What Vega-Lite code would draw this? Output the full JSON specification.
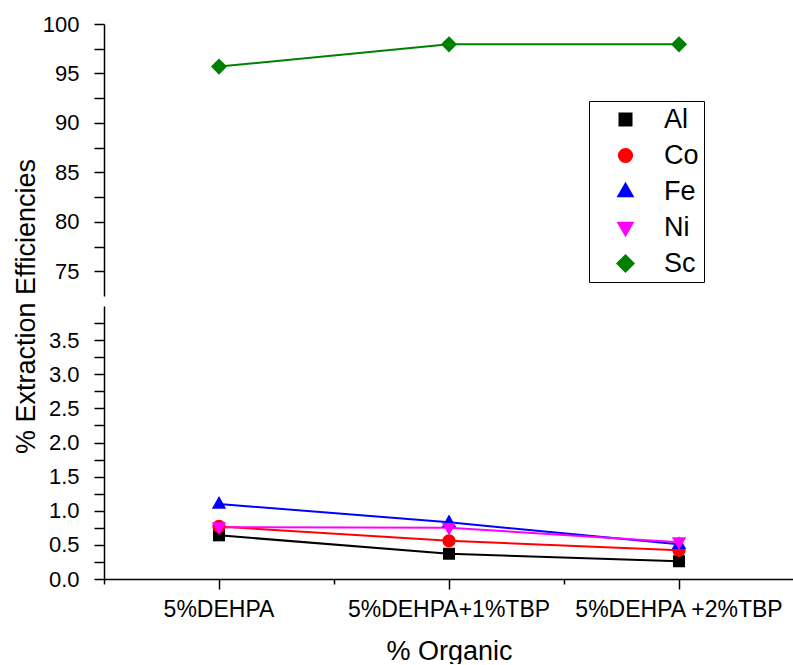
{
  "$schema": "https://vega.github.io/schema/vega-lite/v6.json",
  "padding": {"left": 11, "top": 13, "right": 0, "bottom": 0},
  "background": "white",
  "bounds": "flush",
  "config": {
    "view": {"stroke": null},
    "font": "Liberation Sans",
    "axis": {
      "grid": false,
      "domainColor": "black",
      "tickColor": "black",
      "labelColor": "black",
      "titleColor": "black",
      "domainWidth": 1.5,
      "tickWidth": 1.5,
      "labelFont": "Liberation Sans",
      "titleFont": "Liberation Sans",
      "titleFontWeight": "normal",
      "labelFontSize": 22
    }
  },
  "data": {
    "values": [
      {"organic": "5%DEHPA", "metal": "Al", "value": 0.64},
      {"organic": "5%DEHPA+1%TBP", "metal": "Al", "value": 0.37},
      {"organic": "5%DEHPA +2%TBP", "metal": "Al", "value": 0.26},
      {"organic": "5%DEHPA", "metal": "Co", "value": 0.77},
      {"organic": "5%DEHPA+1%TBP", "metal": "Co", "value": 0.56},
      {"organic": "5%DEHPA +2%TBP", "metal": "Co", "value": 0.42},
      {"organic": "5%DEHPA", "metal": "Fe", "value": 1.10},
      {"organic": "5%DEHPA+1%TBP", "metal": "Fe", "value": 0.83},
      {"organic": "5%DEHPA +2%TBP", "metal": "Fe", "value": 0.51},
      {"organic": "5%DEHPA", "metal": "Ni", "value": 0.76},
      {"organic": "5%DEHPA+1%TBP", "metal": "Ni", "value": 0.75},
      {"organic": "5%DEHPA +2%TBP", "metal": "Ni", "value": 0.54},
      {"organic": "5%DEHPA", "metal": "Sc", "value": 95.7},
      {"organic": "5%DEHPA+1%TBP", "metal": "Sc", "value": 97.95},
      {"organic": "5%DEHPA +2%TBP", "metal": "Sc", "value": 97.95}
    ]
  },
  "spacing": 10,
  "vconcat": [
    {
      "width": 690,
      "height": 272,
      "transform": [{"filter": "datum.metal === 'Sc'"}],
      "encoding": {
        "x": {
          "field": "organic", "type": "nominal",
          "sort": ["5%DEHPA", "5%DEHPA+1%TBP", "5%DEHPA +2%TBP"],
          "scale": {"type": "band", "paddingInner": 0, "paddingOuter": 0},
          "axis": null
        },
        "y": {
          "field": "value", "type": "quantitative",
          "scale": {"domain": [72.5, 100], "nice": false, "zero": false},
          "axis": {
            "title": null,
            "values": [75, 77.5, 80, 82.5, 85, 87.5, 90, 92.5, 95, 97.5, 100],
            "labelExpr": "datum.value % 5 === 0 ? datum.label : ''",
            "tickSize": 10,
            "labelPadding": 15,
            "encode": {"ticks": {"update": {"x2": {"signal": "datum.value % 5 === 0 ? -10 : -5"}}}}
          }
        },
        "color": {
          "field": "metal", "type": "nominal",
          "scale": {"domain": ["Al", "Co", "Fe", "Ni", "Sc"], "range": ["#000000", "#ff0000", "#0000ff", "#ff00ff", "#008000"]},
          "legend": {
            "orient": "none",
            "legendX": 485,
            "legendY": 77,
            "title": null,
            "strokeColor": "black",
            "fillColor": "white",
            "padding": 5,
            "symbolSize": 144,
            "symbolStrokeWidth": 2,
            "symbolOffset": 18,
            "labelOffset": 25,
            "labelFontSize": 27,
            "labelColor": "black",
            "labelFont": "Liberation Sans",
            "rowPadding": 8,
            "encode": {
              "symbols": {
                "update": {
                  "shape": {"signal": "datum.value === 'Al' ? 'M-5.33,0H5.33M-1,-1H1V1H-1Z' : datum.value === 'Co' ? 'M-5.33,0H5.33M-1.1,0A1.1,1.1 0 1,0 1.1,0A1.1,1.1 0 1,0 -1.1,0Z' : datum.value === 'Fe' ? 'M-5.33,0H5.33M0,-1.3L1.2,0.8H-1.2Z' : datum.value === 'Ni' ? 'M-5.33,0H5.33M0,1.3L1.2,-0.8H-1.2Z' : 'M-5.33,0H5.33M-1.35,0L0,-1.35L1.35,0L0,1.35Z'"},
                  "fill": {"signal": "scale('color', datum.value)"},
                  "stroke": {"signal": "scale('color', datum.value)"},
                  "strokeWidth": {"value": 2},
                  "opacity": {"value": 1}
                }
              }
            }
          }
        }
      },
      "layer": [
        {"mark": {"type": "line", "strokeWidth": 2}},
        {
          "mark": {"type": "point", "filled": true, "size": 144, "opacity": 1},
          "encoding": {
            "shape": {
              "field": "metal", "type": "nominal",
              "scale": {"domain": ["Al", "Co", "Fe", "Ni", "Sc"], "range": ["M-1,-1H1V1H-1Z", "M-1.1,0A1.1,1.1 0 1,0 1.1,0A1.1,1.1 0 1,0 -1.1,0Z", "M0,-1.3L1.2,0.8H-1.2Z", "M0,1.3L1.2,-0.8H-1.2Z", "M-1.35,0L0,-1.35L1.35,0L0,1.35Z"]},
              "legend": null
            }
          }
        }
      ]
    },
    {
      "width": 690,
      "height": 273,
      "transform": [{"filter": "datum.metal !== 'Sc'"}],
      "encoding": {
        "y": {
          "field": "value", "type": "quantitative",
          "scale": {"domain": [0, 4], "nice": false, "zero": true},
          "axis": {
            "title": "% Extraction Efficiencies",
            "titleFontSize": 27,
            "titleX": -70,
            "titleY": 0,
            "titleAngle": -90,
            "titleAlign": "center",
            "titleBaseline": "alphabetic",
            "values": [0, 0.25, 0.5, 0.75, 1, 1.25, 1.5, 1.75, 2, 2.25, 2.5, 2.75, 3, 3.25, 3.5, 3.75],
            "format": ".1f",
            "labelExpr": "abs(datum.value * 2 - round(datum.value * 2)) < 0.000001 ? datum.label : ''",
            "tickSize": 10,
            "labelPadding": 15,
            "encode": {"ticks": {"update": {"x2": {"signal": "abs(datum.value * 2 - round(datum.value * 2)) < 0.000001 ? -10 : -5"}}}}
          }
        },
        "color": {"field": "metal", "type": "nominal"}
      },
      "layer": [
        {
          "mark": {"type": "line", "strokeWidth": 2},
          "encoding": {
            "x": {
              "field": "organic", "type": "nominal",
              "sort": ["5%DEHPA", "5%DEHPA+1%TBP", "5%DEHPA +2%TBP"],
              "scale": {"type": "band", "paddingInner": 0, "paddingOuter": 0},
              "axis": {"orient": "bottom", "tickBand": "extent", "labels": false, "domain": false, "tickSize": 5, "title": null}
            }
          }
        },
        {
          "mark": {"type": "point", "filled": true, "size": 144, "opacity": 1},
          "encoding": {
            "x": {
              "field": "organic", "type": "nominal",
              "sort": ["5%DEHPA", "5%DEHPA+1%TBP", "5%DEHPA +2%TBP"],
              "scale": {"type": "band", "paddingInner": 0, "paddingOuter": 0},
              "axis": {"orient": "bottom", "tickSize": 10, "labelAngle": 0, "labelFontSize": 23, "labelPadding": 9, "labelLimit": 400, "title": "% Organic", "titleFontSize": 27, "titlePadding": 17}
            },
            "shape": {"field": "metal", "type": "nominal", "legend": null}
          }
        }
      ],
      "resolve": {"axis": {"x": "independent"}}
    }
  ]
}
